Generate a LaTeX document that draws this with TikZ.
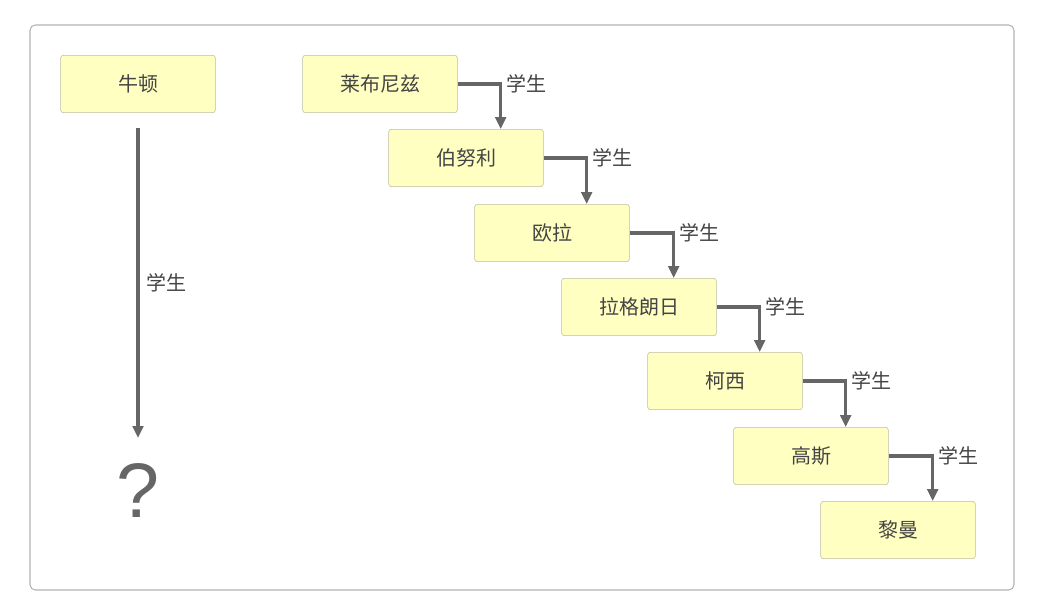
\documentclass[tikz,border=0pt]{standalone}
\usepackage{fontspec}
\setmainfont{Noto Sans CJK SC}
\newfontfamily\qfont{Liberation Sans}
\usetikzlibrary{arrows.meta,positioning}
\definecolor{boxfill}{HTML}{FFFFC2}
\definecolor{boxline}{HTML}{BDBDA0}
\definecolor{linkgray}{HTML}{666666}
\definecolor{textgray}{HTML}{444444}
\begin{document}
\begin{tikzpicture}[x=0.75pt,y=-0.75pt,>={Triangle[length=9pt,width=8pt]},
  person/.style={draw=boxline,fill=boxfill,rounded corners=2pt,minimum width=116pt,minimum height=43pt,inner sep=0pt,font=\fontsize{15}{17}\selectfont,text=textgray},
  link/.style={->,draw=linkgray,line width=2.4pt},
  tag/.style={font=\fontsize{15}{17}\selectfont,text=textgray,inner sep=1pt}]
\useasboundingbox (0,0) rectangle (1045,616);
\draw[draw=gray!60,rounded corners=4pt,line width=0.8pt] (30,25) rectangle (1014,590);
\node[person] (N) at (138,84) {牛顿};
\node[font=\qfont\fontsize{58}{60}\selectfont,text=linkgray] (Q) at (138,490) {?};
\draw[link] (138,128) -- node[tag,right=4pt] {学生} (138,438);
\node[person] (A) at (380,84) {莱布尼兹};
\node[person] (B) at (466,158) {伯努利};
\node[person] (C) at (552,233) {欧拉};
\node[person] (D) at (639,307) {拉格朗日};
\node[person] (E) at (725,381) {柯西};
\node[person] (F) at (811,456) {高斯};
\node[person] (G) at (898,530) {黎曼};
\foreach \u/\v in {A/B,B/C,C/D,D/E,E/F,F/G}{
  \draw[link] (\u.east) -| node[tag,pos=0.5,anchor=south west,xshift=2pt,yshift=-9pt] {学生} ([xshift=26pt]\v.north);
}
\end{tikzpicture}
\end{document}
